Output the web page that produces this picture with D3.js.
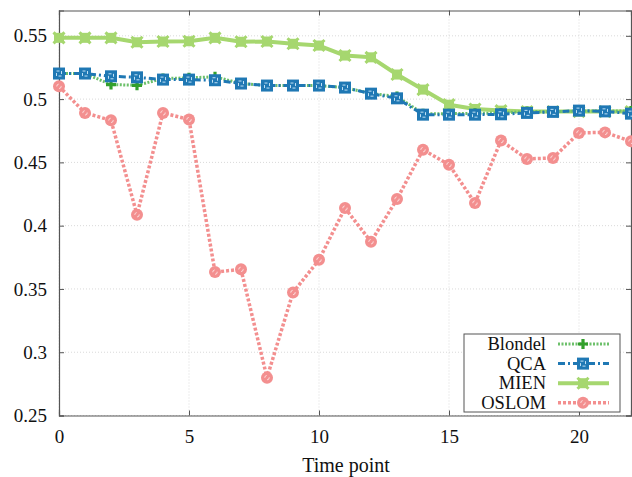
<!DOCTYPE html>
<html><head><meta charset="utf-8">
<script src="https://cdn.jsdelivr.net/npm/d3@7"></script>
<style>body{margin:0;background:#fff}svg{display:block}
svg text{font-family:"Liberation Serif","DejaVu Serif","Times New Roman",serif !important;}</style>
</head><body>
<svg id="c" width="632" height="477"></svg>
<script>
const timePoints = d3.range(0, 23);
const blondel = [0.5202,0.5202,0.5115,0.5109,0.5162,0.5168,0.5176,0.5123,0.5107,0.5107,0.5107,0.5091,0.5044,0.5020,0.4885,0.4885,0.4888,0.4890,0.4902,0.4900,0.4905,0.4905,0.4905];
const qca = [0.5202,0.5202,0.5180,0.5172,0.5154,0.5154,0.5149,0.5123,0.5107,0.5107,0.5107,0.5091,0.5043,0.5006,0.4877,0.4877,0.4877,0.4880,0.4891,0.4899,0.4909,0.4903,0.4885];
const mien = [0.5484,0.5484,0.5484,0.5449,0.5455,0.5457,0.5484,0.5453,0.5455,0.5437,0.5423,0.5344,0.5330,0.5194,0.5075,0.4956,0.4922,0.4909,0.4902,0.4901,0.4901,0.4901,0.4901];
const oslom = [0.5101,0.4891,0.4832,0.4086,0.4891,0.4838,0.3633,0.3655,0.2799,0.3472,0.3730,0.4139,0.3873,0.4210,0.4600,0.4482,0.4179,0.4672,0.4527,0.4535,0.4733,0.4737,0.4666];
const seriesNames = ["Blondel","QCA","MIEN","OSLOM"];
const xTicks = [0,5,10,15,20];
const yTicks = [0.25,0.3,0.35,0.4,0.45,0.5,0.55];
const yTickLabels = ["0.25","0.3","0.35","0.4","0.45","0.5","0.55"];
const xLabel = "Time point";

const svg = d3.select("#c");
const L = 59, R = 631, T = 10.5, B = 415.5;
const x = d3.scaleLinear().domain([0, 22]).range([L, R]);
const y = d3.scaleLinear().domain([0.25, 0.57]).range([B, T]);
const font = "Liberation Serif";

// grid
const g = svg.append("g");
g.selectAll(".gx").data(xTicks).join("line")
  .attr("x1", d => x(d)).attr("x2", d => x(d)).attr("y1", T).attr("y2", B)
  .attr("stroke", "#d9d9d9").attr("stroke-width", 1).attr("stroke-dasharray", "1,2");
g.selectAll(".gy").data(yTicks).join("line")
  .attr("x1", L).attr("x2", R).attr("y1", d => y(d)).attr("y2", d => y(d))
  .attr("stroke", "#d9d9d9").attr("stroke-width", 1).attr("stroke-dasharray", "1,2");

// axes
const axColor = "#555";
const xa = svg.append("g").attr("transform", `translate(0,${B})`)
  .call(d3.axisBottom(x).tickValues(xTicks).tickSize(-5).tickPadding(14).tickFormat(d3.format("d")));
const xt = svg.append("g").attr("transform", `translate(0,${T})`)
  .call(d3.axisTop(x).tickValues(xTicks).tickSize(-5).tickFormat(""));
const ya = svg.append("g").attr("transform", `translate(${L},0)`)
  .call(d3.axisLeft(y).tickValues(yTicks).tickSize(-5).tickPadding(12).tickFormat((d,i) => yTickLabels[i]));
const yr = svg.append("g").attr("transform", `translate(${R},0)`)
  .call(d3.axisRight(y).tickValues(yTicks).tickSize(-5).tickFormat(""));
[xa, xt, ya, yr].forEach(a => {
  a.attr("font-family", font).attr("font-size", 19);
  a.select(".domain").attr("stroke", axColor).attr("stroke-width", 1.2);
  a.selectAll(".tick line").attr("stroke", axColor);
  a.selectAll("text").attr("fill", "#111");
});

svg.append("text").attr("x", 346).attr("y", 472).attr("text-anchor", "middle")
  .attr("font-family", font).attr("font-size", 20).attr("fill", "#111").text(xLabel);

// series
const styles = {
  Blondel: {data: blondel, color: "#33a02c", lineColor: "#6cc06a", width: 3, dash: "2,1.5", marker: "plus"},
  QCA: {data: qca, color: "#1f78b4", lineColor: "#1f78b4", width: 3, dash: "7,3,2,3", marker: "square"},
  MIEN: {data: mien, color: "#a6d76f", lineColor: "#a6d76f", width: 4, dash: null, marker: "xblob"},
  OSLOM: {data: oslom, color: "#f38f8f", lineColor: "#f38f8f", width: 3.5, dash: "3,2", marker: "circle"}
};

function drawMarker(sel, type, color) {
  if (type === "plus") {
    sel.append("path").attr("d", "M-5,0H5M0,-5V5")
      .attr("stroke", color).attr("stroke-width", 3.2).attr("fill", "none");
  } else if (type === "square") {
    sel.append("rect").attr("x", -6).attr("y", -6).attr("width", 12).attr("height", 12).attr("fill", color);
    sel.append("rect").attr("x", -2.5).attr("y", -2.5).attr("width", 5).attr("height", 5)
      .attr("fill", "none").attr("stroke", "#bfe0f5").attr("stroke-width", 1).attr("stroke-dasharray", "3,2");
  } else if (type === "xblob") {
    sel.append("rect").attr("x", -5).attr("y", -5).attr("width", 10).attr("height", 10).attr("fill", color);
    sel.append("path").attr("d", "M-5.5,-5.5L5.5,5.5M-5.5,5.5L5.5,-5.5")
      .attr("stroke", color).attr("stroke-width", 3);
  } else if (type === "circle") {
    sel.append("circle").attr("r", 6).attr("fill", color);
    sel.append("circle").attr("r", 2.2).attr("fill", "none").attr("stroke", "#fde0e0")
      .attr("stroke-width", 1).attr("stroke-dasharray", "3,3");
  }
}

const plotG = svg.append("g");
const line = d3.line().x((d, i) => x(timePoints[i])).y(d => y(d));
["OSLOM","MIEN","Blondel","QCA"].forEach(name => {
  const st = styles[name];
  const p = plotG.append("path").datum(st.data).attr("d", line)
    .attr("fill", "none").attr("stroke", st.lineColor).attr("stroke-width", st.width)
    .attr("stroke-linejoin", "round");
  if (st.dash) p.attr("stroke-dasharray", st.dash);
  st.data.forEach((v, i) => {
    const mg = plotG.append("g").attr("transform", `translate(${x(timePoints[i])},${y(v)})`);
    drawMarker(mg, st.marker, st.color);
  });
});

// legend
const lg = svg.append("g");
lg.append("rect").attr("x", 464).attr("y", 334).attr("width", 156).attr("height", 78)
  .attr("fill", "#fff").attr("stroke", "#555").attr("stroke-width", 1);
seriesNames.forEach((name, i) => {
  const st = styles[name];
  const cy = 344 + i * 19.6;
  lg.append("text").attr("x", 546).attr("y", cy + 6).attr("text-anchor", "end")
    .attr("font-family", font).attr("font-size", 18.5).attr("fill", "#111").text(name);
  const ln = lg.append("line").attr("x1", 558).attr("x2", 609).attr("y1", cy).attr("y2", cy)
    .attr("stroke", st.lineColor).attr("stroke-width", st.width);
  if (st.dash) ln.attr("stroke-dasharray", st.dash);
  drawMarker(lg.append("g").attr("transform", `translate(583,${cy})`), st.marker, st.color);
});
</script>
</body></html>
